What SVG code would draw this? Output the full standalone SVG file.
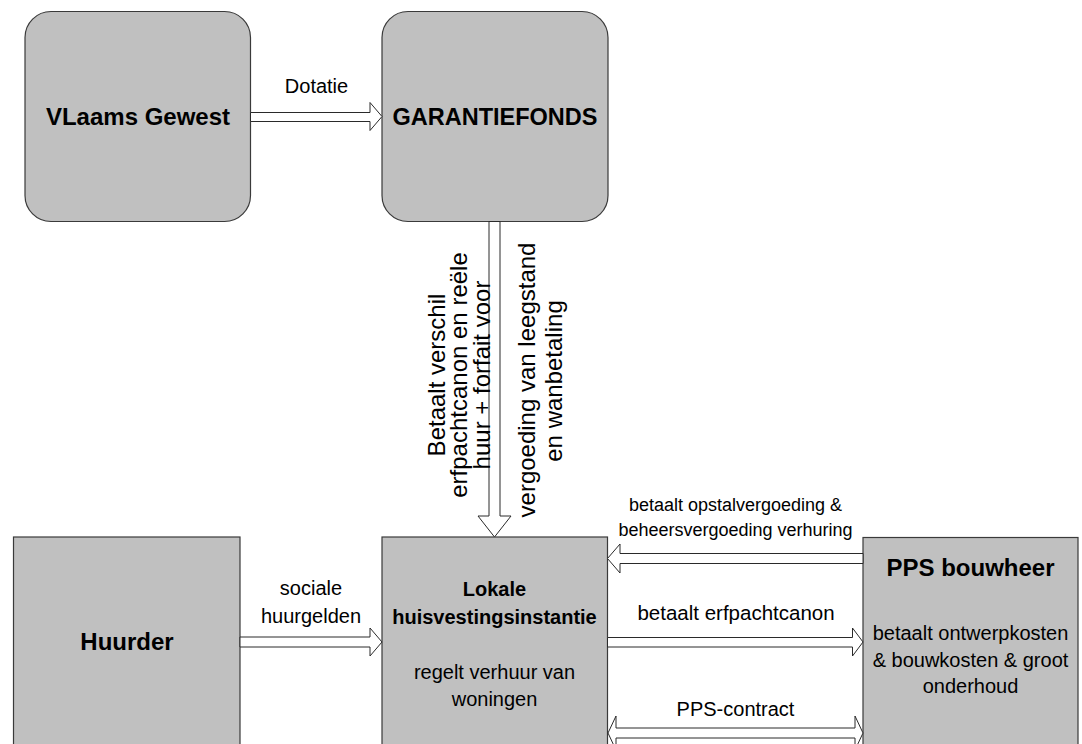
<svg xmlns="http://www.w3.org/2000/svg" width="1082" height="744" viewBox="0 0 1082 744">
<style>
  .box { fill: #c0c0c0; stroke: #3a3a3a; stroke-width: 1.2; }
  .arr { fill: #ffffff; stroke: #2a2a2a; stroke-width: 1; stroke-linejoin: miter; }
  text { font-family: "Liberation Sans", Arial, sans-serif; fill: #000; text-anchor: middle; }
  .title { font-size: 24px; font-weight: bold; }
  .sub { font-size: 20px; font-weight: bold; }
  .body { font-size: 20px; }
  .lbl { font-size: 20px; }
  .lbl18 { font-size: 18px; }
  .vert { font-size: 24px; }
</style>
<rect width="1082" height="744" fill="#ffffff"/>
<g id="vlaams-gewest">
  <rect class="box" x="25" y="11.5" width="225.5" height="210" rx="26" ry="26"/>
  <text class="title" x="138" y="125">VLaams Gewest</text>
</g>
<g id="garantiefonds">
  <rect class="box" x="382" y="11.5" width="226" height="210" rx="26" ry="26"/>
  <text class="title" x="495" y="125" style="font-size:23.5px">GARANTIEFONDS</text>
</g>
<g id="huurder">
  <rect class="box" x="13.5" y="537" width="226.5" height="230"/>
  <text class="title" x="127" y="650">Huurder</text>
</g>
<g id="lokale">
  <rect class="box" x="382" y="537" width="225.5" height="230"/>
  <text class="sub" x="494.5" y="596">Lokale</text>
  <text class="sub" x="494.5" y="624">huisvestingsinstantie</text>
  <text class="body" x="494.5" y="679">regelt verhuur van</text>
  <text class="body" x="494.5" y="706">woningen</text>
</g>
<g id="pps-bouwheer">
  <rect class="box" x="863" y="537.5" width="215" height="230"/>
  <text class="title" x="970.5" y="576">PPS bouwheer</text>
  <text class="body" x="970.5" y="640">betaalt ontwerpkosten</text>
  <text class="body" x="970.5" y="666.5">&amp; bouwkosten &amp; groot</text>
  <text class="body" x="970.5" y="693">onderhoud</text>
</g>
<g id="connectors">
  <path class="arr" d="M250.5,112.5 H370 V102.5 L382,116.5 L370,130.5 V121.5 H250.5 Z"/>
  <path class="arr" d="M489,221.5 V516 H478 L494.5,537 L511,516 H500 V221.5 Z"/>
  <path class="arr" d="M240,637 H370 V628 L382,642 L370,656 V647 H240 Z"/>
  <path class="arr" d="M863,553.5 H620 V544 L607.5,558.5 L620,573 V563.5 H863 Z"/>
  <path class="arr" d="M607.5,637.5 H852.5 V628 L863,642 L852.5,656 V647 H607.5 Z"/>
  <path class="arr" d="M608,733 L616,716 V728 H855 V716 L863,733 L855,750 V738 H616 V750 Z"/>
  <text class="lbl" x="316.5" y="93">Dotatie</text>
  <text class="lbl" x="311" y="595">sociale</text>
  <text class="lbl" x="311" y="623">huurgelden</text>
  <text class="lbl18" x="735.5" y="511">betaalt opstalvergoeding &amp;</text>
  <text class="lbl18" x="735.5" y="536">beheersvergoeding verhuring</text>
  <text class="lbl" x="736" y="620" style="font-size:20.5px">betaalt erfpachtcanon</text>
  <text class="lbl" x="735.5" y="716">PPS-contract</text>
  <text class="vert" transform="translate(444.5,375) rotate(-90)">Betaalt verschil</text>
  <text class="vert" transform="translate(467,375) rotate(-90)">erfpachtcanon en reële</text>
  <text class="vert" transform="translate(489.5,375) rotate(-90)">huur + forfait voor</text>
  <text class="vert" transform="translate(535,380) rotate(-90)">vergoeding van leegstand</text>
  <text class="vert" transform="translate(562,381) rotate(-90)">en wanbetaling</text>
</g>
</svg>
